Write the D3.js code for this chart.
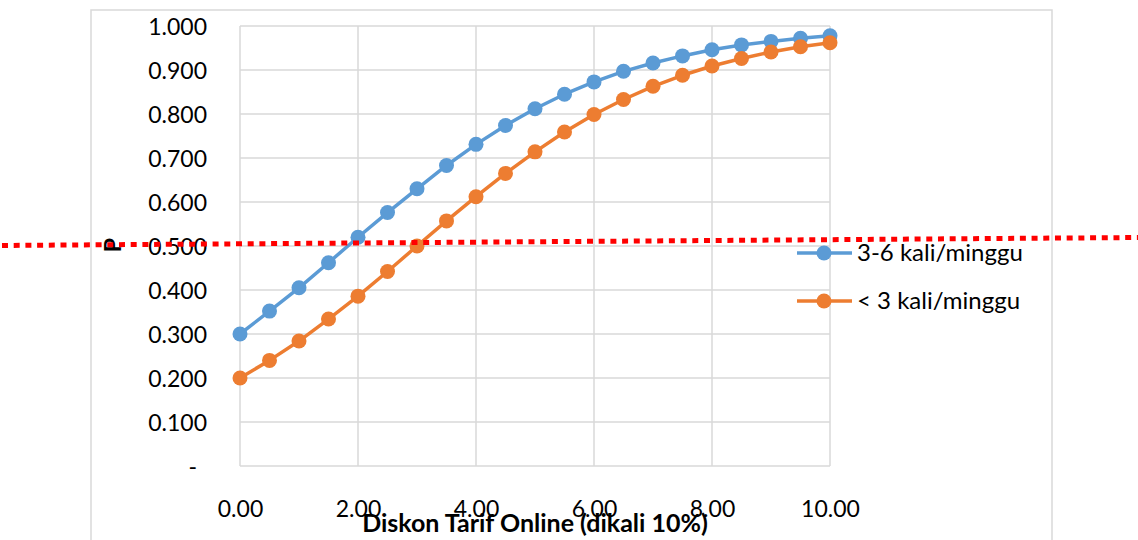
<!DOCTYPE html>
<html>
<head>
<meta charset="utf-8">
<script src="https://cdn.jsdelivr.net/npm/d3@7"></script>
<style>
  body { margin: 0; background: #fff; }
  svg { display: block; font-family: Lato, "Open Sans", sans-serif; }
</style>
</head>
<body>
<div id="chart"></div>
<script>
/* CONSTANTS AND GLOBALS */
const width = 1138;
const height = 540;
const plot = { left: 240, right: 830, top: 26, bottom: 466 };

// DATA ######################################################
const diskon = [0, 0.5, 1, 1.5, 2, 2.5, 3, 3.5, 4, 4.5, 5, 5.5, 6, 6.5, 7, 7.5, 8, 8.5, 9, 9.5, 10];
const p36kali = [0.300, 0.352, 0.405, 0.462, 0.520, 0.576, 0.630, 0.683, 0.731, 0.774, 0.812,
                 0.845, 0.873, 0.897, 0.916, 0.932, 0.946, 0.957, 0.965, 0.972, 0.978];
const pKurang3 = [0.200, 0.240, 0.284, 0.334, 0.386, 0.442, 0.500, 0.557, 0.612, 0.665, 0.714,
                  0.759, 0.799, 0.833, 0.863, 0.888, 0.909, 0.926, 0.941, 0.953, 0.962];
const seriesNames = ["3-6 kali/minggu", "< 3 kali/minggu"];
const xTicks = [0, 2, 4, 6, 8, 10];
const yTicks = [0, 0.1, 0.2, 0.3, 0.4, 0.5, 0.6, 0.7, 0.8, 0.9, 1.0];

const colors = ["#5B9BD5", "#ED7D31"];
const gridColor = "#D9D9D9";

// SCALES ====================================================
const xScale = d3.scaleLinear().domain([0, 10]).range([plot.left, plot.right]);
const yScale = d3.scaleLinear().domain([0, 1]).range([plot.bottom, plot.top]);

const svg = d3.select("#chart")
  .append("svg")
  .attr("width", width)
  .attr("height", height);

// chart frame (bottom runs past the picture)
svg.append("rect")
  .attr("x", 91)
  .attr("y", 10)
  .attr("width", 961)
  .attr("height", 600)
  .attr("fill", "none")
  .attr("stroke", gridColor)
  .attr("stroke-width", 1.5);

// GRIDLINES =================================================
svg.append("g")
  .selectAll("line")
  .data(yTicks)
  .join("line")
    .attr("x1", plot.left)
    .attr("x2", plot.right)
    .attr("y1", d => yScale(d))
    .attr("y2", d => yScale(d))
    .attr("stroke", gridColor)
    .attr("stroke-width", 1.5);

svg.append("g")
  .selectAll("line")
  .data(xTicks)
  .join("line")
    .attr("x1", d => xScale(d))
    .attr("x2", d => xScale(d))
    .attr("y1", plot.top)
    .attr("y2", plot.bottom)
    .attr("stroke", gridColor)
    .attr("stroke-width", 1.5);

// AXES ======================================================
const yAxis = svg.append("g")
  .attr("transform", `translate(${plot.left - 33}, 0)`)
  .call(d3.axisLeft(yScale)
    .tickValues(yTicks)
    .tickSize(0)
    .tickPadding(0)
    .tickFormat(d => d === 0 ? "-" : d3.format(".3f")(d)));

const xAxis = svg.append("g")
  .attr("transform", `translate(0, 500)`)
  .call(d3.axisBottom(xScale)
    .tickValues(xTicks)
    .tickSize(0)
    .tickPadding(0)
    .tickFormat(d3.format(".2f")));

[yAxis, xAxis].forEach(g => {
  g.select(".domain").remove();
  g.selectAll("text")
    .attr("fill", "#000")
    .style("font-size", "23px")
    .style("font-family", "Lato, 'Open Sans', sans-serif");
});
yAxis.selectAll("text").attr("dy", "0.35em");
yAxis.selectAll(".tick").filter(d => d === 0).select("text").attr("x", -10);
xAxis.selectAll("text").attr("dy", "0.76em");

// AXIS LABELS ----------------------------------------------
svg.append("text")
  .attr("x", 535)
  .attr("y", 532)
  .attr("text-anchor", "middle")
  .style("font-weight", "bold")
  .style("font-size", "25px")
  .text("Diskon Tarif Online (dikali 10%)");

svg.append("text")
  .attr("transform", "translate(121, 245) rotate(-90)")
  .attr("text-anchor", "middle")
  .style("font-weight", "bold")
  .style("font-size", "23px")
  .text("P");

// LINES AND MARKERS =========================================
const allSeries = [p36kali, pKurang3];
const line = d3.line()
  .x((d, i) => xScale(diskon[i]))
  .y(d => yScale(d));

allSeries.forEach((values, k) => {
  svg.append("path")
    .datum(values)
    .attr("d", line)
    .attr("fill", "none")
    .attr("stroke", colors[k])
    .attr("stroke-width", 3.5)
    .attr("stroke-linejoin", "round");

  svg.append("g")
    .selectAll("circle")
    .data(values)
    .join("circle")
      .attr("cx", (d, i) => xScale(diskon[i]))
      .attr("cy", d => yScale(d))
      .attr("r", 7.5)
      .attr("fill", colors[k]);
});

// red dotted reference line at P = 0.5, drawn across the whole picture
svg.append("line")
  .attr("x1", 0)
  .attr("y1", 245.5)
  .attr("x2", width)
  .attr("y2", 237.5)
  .attr("stroke", "#FF0000")
  .attr("stroke-width", 5)
  .attr("stroke-dasharray", "6,5.7")
  .attr("stroke-dashoffset", -2);

// LEGEND ====================================================
const legend = svg.append("g")
  .selectAll("g")
  .data(seriesNames)
  .join("g")
    .attr("transform", (d, i) => `translate(797, ${253 + i * 48})`);

legend.append("line")
  .attr("x1", 0)
  .attr("x2", 55)
  .attr("stroke", (d, i) => colors[i])
  .attr("stroke-width", 3.5);

legend.append("circle")
  .attr("cx", 27)
  .attr("r", 7.5)
  .attr("fill", (d, i) => colors[i]);

legend.append("text")
  .attr("x", 60)
  .attr("dy", "0.35em")
  .style("font-size", "24px")
  .text(d => d);
</script>
</body>
</html>
